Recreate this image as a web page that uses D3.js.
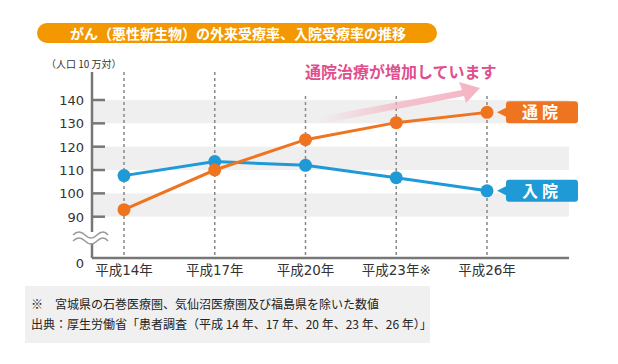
<!DOCTYPE html>
<html>
<head>
<meta charset="utf-8">
<script src="https://cdn.jsdelivr.net/npm/d3@7"></script>
<style>
  body { margin: 0; background: #fff; }
  svg { display: block; }
  text { font-family: "DejaVu Sans", "Noto Sans CJK JP", sans-serif; }
  .jp { font-family: "Noto Sans CJK JP", sans-serif; }
</style>
</head>
<body>
<svg id="chart" width="618" height="364"></svg>
<script>
// chart data
let years = ["平成14年", "平成17年", "平成20年", "平成23年※", "平成26年"];
let outpatient = [93, 110, 123, 130.3, 134.7];   // 通院
let inpatient = [107.6, 113.6, 112, 106.7, 101.1]; // 入院
let yTicks = [90, 100, 110, 120, 130, 140];
let bands = [[90, 100], [110, 120], [130, 140]];

let titleText = "がん（悪性新生物）の外来受療率、入院受療率の推移";
let notes = ["※　宮城県の石巻医療圏、気仙沼医療圏及び福島県を除いた数値",
             "出典：厚生労働省「患者調査（平成 14 年、17 年、20 年、23 年、26 年）」"];

(function() {
const svg = d3.select("#chart");
const orange = "#ee7420", blue = "#1f9ad6";

const plotLeft = 92, plotRight = 569, plotTop = 72, plotBottom = 258;

const x = d3.scalePoint().domain(years).range([124, 487]);
const y = d3.scaleLinear().domain([90, 140]).range([216.7, 100]);

// title bar
svg.append("rect").attr("x", 37).attr("y", 23).attr("width", 400).attr("height", 20)
  .attr("rx", 10).attr("fill", "#f39800");
svg.append("text").attr("class", "jp").attr("x", 70).attr("y", 38.5)
  .attr("fill", "#fff").attr("font-size", 14).attr("font-weight", "bold")
  .text(titleText);

// gray bands
svg.selectAll(".band").data(bands).enter().append("rect")
  .attr("x", plotLeft).attr("width", plotRight - plotLeft)
  .attr("y", d => y(d[1])).attr("height", d => y(d[0]) - y(d[1]))
  .attr("fill", "#efefef");

// dashed year lines
svg.selectAll(".vline").data(years).enter().append("line")
  .attr("x1", d => x(d)).attr("x2", d => x(d))
  .attr("y1", plotTop).attr("y2", plotBottom)
  .attr("stroke", "#888").attr("stroke-width", 1.5).attr("stroke-dasharray", "3,3");

// annotation (white backing so lines stop under the text)
svg.append("rect").attr("x", 298).attr("y", 60).attr("width", 205).attr("height", 36).attr("fill", "#fff");

// gradient arrow
let defs = svg.append("defs");
let grad = defs.append("linearGradient").attr("id", "pinkgrad")
  .attr("x1", "0%").attr("x2", "100%").attr("y1", "0%").attr("y2", "0%");
grad.append("stop").attr("offset", "0%").attr("stop-color", "#f4b3c2").attr("stop-opacity", 0);
grad.append("stop").attr("offset", "50%").attr("stop-color", "#f4b3c2").attr("stop-opacity", 0.75);
grad.append("stop").attr("offset", "100%").attr("stop-color", "#f4b3c2").attr("stop-opacity", 1);
svg.append("path")
  .attr("d", "M318,117 L462,90 L459,82 L480,88 L466,103 L464,96 L320,124 Z")
  .attr("fill", "url(#pinkgrad)");

svg.append("text").attr("class", "jp").attr("x", 305).attr("y", 78)
  .attr("fill", "#df4f8d").attr("font-size", 16).attr("font-weight", "bold")
  .text("通院治療が増加しています");

// y axis line + ticks
svg.append("line").attr("x1", plotLeft).attr("x2", plotLeft).attr("y1", plotTop).attr("y2", plotBottom)
  .attr("stroke", "#777").attr("stroke-width", 2.5);
svg.selectAll(".ytick").data(yTicks).enter().append("line")
  .attr("x1", plotLeft).attr("x2", 105).attr("y1", d => y(d)).attr("y2", d => y(d))
  .attr("stroke", "#777").attr("stroke-width", 2.5);
svg.selectAll(".ylab").data(yTicks).enter().append("text")
  .attr("x", 84).attr("y", d => y(d) + 5).attr("text-anchor", "end")
  .attr("font-size", 13).attr("fill", "#333").text(d => d);
svg.append("text").attr("x", 84).attr("y", 268).attr("text-anchor", "end")
  .attr("font-size", 13).attr("fill", "#333").text("0");

// axis break
svg.append("rect").attr("x", 72).attr("y", 232).attr("width", 38).attr("height", 11).attr("fill", "#fff");
let wave = "c4,-4 8,-4 12,0 c4,4 8,4 12,0 c4,-4 8,-4 11,0";
svg.append("path").attr("d", "M73,235 " + wave).attr("fill", "none").attr("stroke", "#999").attr("stroke-width", 1.5);
svg.append("path").attr("d", "M73,241 " + wave).attr("fill", "none").attr("stroke", "#999").attr("stroke-width", 1.5);

// y unit
svg.append("text").attr("class", "jp").attr("x", 46).attr("y", 68)
  .attr("font-size", 10).attr("fill", "#333").text("（人口 10 万対）");

// x axis
svg.append("line").attr("x1", plotLeft).attr("x2", plotRight).attr("y1", plotBottom).attr("y2", plotBottom)
  .attr("stroke", "#777").attr("stroke-width", 2.5);
svg.selectAll(".xlab").data(years).enter().append("text")
  .attr("x", d => x(d)).attr("y", 275).attr("text-anchor", "middle")
  .attr("font-size", 13.5).attr("fill", "#333").text(d => d);

// lines and markers
const line = d3.line().x((d, i) => x(years[i])).y(d => y(d));
function drawSeries(data, color) {
  svg.append("path").datum(data).attr("d", line)
    .attr("fill", "none").attr("stroke", color).attr("stroke-width", 3);
  svg.selectAll(null).data(data).enter().append("circle")
    .attr("cx", (d, i) => x(years[i])).attr("cy", d => y(d)).attr("r", 6.5)
    .attr("fill", color);
}
drawSeries(inpatient, blue);
drawSeries(outpatient, orange);

// series labels
function seriesLabel(value, color, label) {
  let cy = y(value);
  let g = svg.append("g");
  g.append("path").attr("d", `M497,${cy} L507,${cy - 5} L507,${cy + 5} Z`).attr("fill", color);
  g.append("rect").attr("x", 506).attr("y", cy - 11).attr("width", 72).attr("height", 22)
    .attr("rx", 3).attr("fill", color);
  g.append("text").attr("class", "jp").attr("x", 542).attr("y", cy + 6)
    .attr("text-anchor", "middle").attr("fill", "#fff").attr("font-size", 16)
    .attr("font-weight", "bold").attr("letter-spacing", 4).text(label);
}
seriesLabel(outpatient[4], orange, "通院");
seriesLabel(inpatient[4], blue, "入院");

// footnote box
svg.append("rect").attr("x", 25).attr("y", 286).attr("width", 405).attr("height", 57).attr("fill", "#f0f0f0");
svg.selectAll(".note").data(notes).enter().append("text")
  .attr("class", "jp").attr("x", 31).attr("y", (d, i) => 309 + i * 20)
  .attr("font-size", 12).attr("fill", "#222").text(d => d);
})();
</script>
</body>
</html>
